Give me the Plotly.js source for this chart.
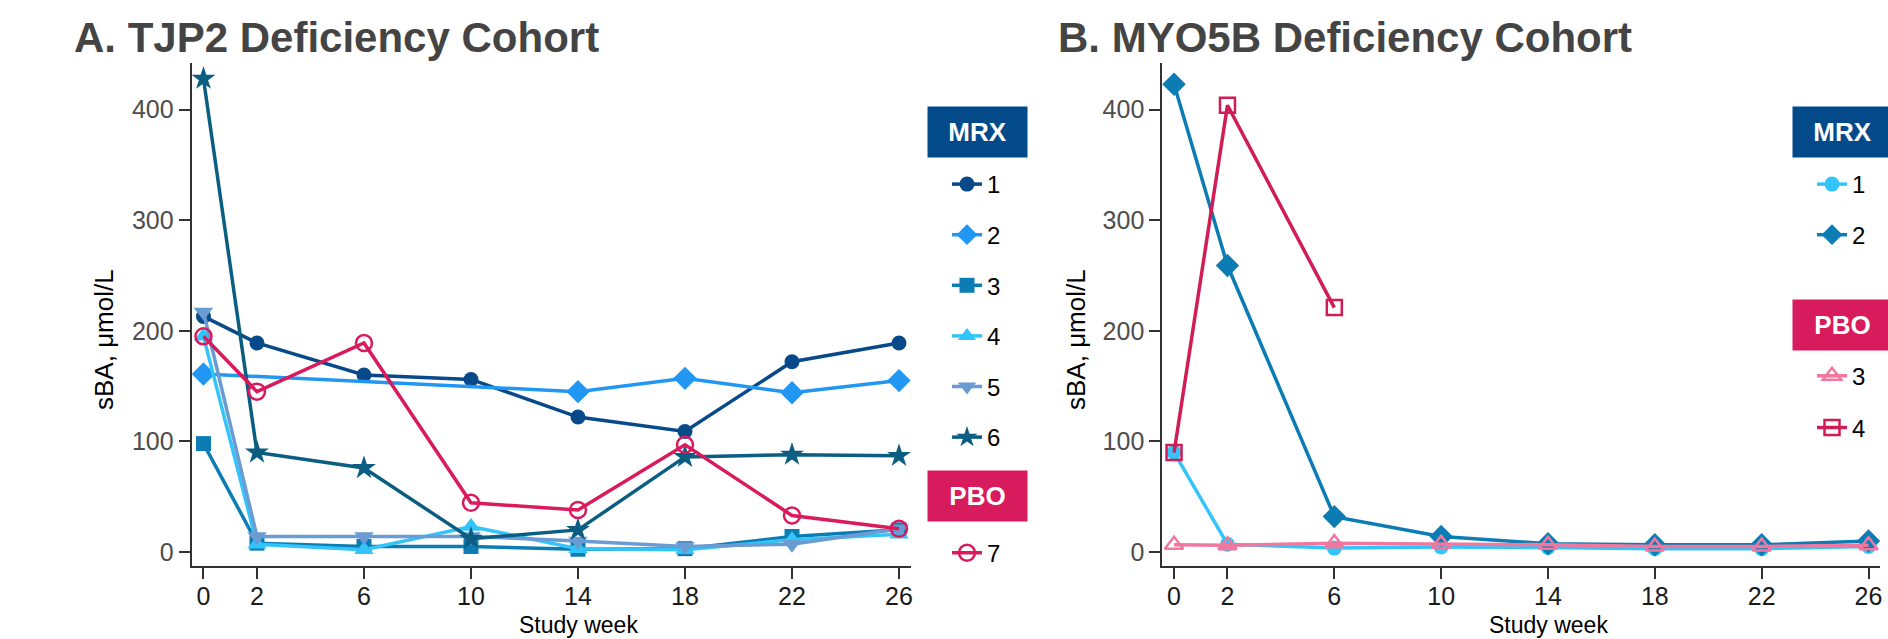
<!DOCTYPE html>
<html>
<head>
<meta charset="utf-8">
<script src="https://cdn.plot.ly/plotly-3.0.1.min.js"></script>
<style>html,body{margin:0;padding:0;background:#fff;}#chart{width:1888px;height:639px;}</style>
</head>
<body>
<div id="chart"></div>
<script>
// ---- data ----
const weeks = [0, 2, 6, 10, 14, 18, 22, 26];
const weekTicks = [0, 2, 6, 10, 14, 18, 22, 26];
const sbaTicks = [0, 100, 200, 300, 400];

// A. TJP2 deficiency cohort
const tjp2Names = ['1', '2', '3', '4', '5', '6', '7'];
const tjp2Mrx1 = [213, 189, 160, 156, 122, 109, 172, 189];
const tjp2Mrx2 = [161, null, null, null, 145, 157, 144, 155];
const tjp2Mrx3 = [98, 8, 5, 5, 2.5, 3, 14, 20];
const tjp2Mrx4 = [195, 7, 2, 23, 3, 2, 11, 16];
const tjp2Mrx5 = [217, 14, 14, 14, 10, 5, 7, 21];
const tjp2Mrx6 = [428, 90, 76, 12, 20, 86, 88, 87];
const tjp2Pbo7 = [195, 145, 189, 44.5, 38, 97, 33, 21];

// B. MYO5B deficiency cohort
const myo5bNames = ['1', '2', '3', '4'];
const myo5bMrx1 = [90, 7, 3.5, 4.5, 4, 3, 3, 5];
const myo5bMrx2 = [423, 259, 32, 14, 7.5, 6.5, 6.5, 10];
const myo5bPbo3 = [6.5, 6, 8, 7.5, 6.5, 5, 5, 6];
const myo5bPbo4 = [90, 404, 221, null, null, null, null, null];

const titles = ['A. TJP2 Deficiency Cohort', 'B. MYO5B Deficiency Cohort'];
const groupLabels = ['MRX', 'PBO'];
const xTitle = 'Study week';
const yTitle = 'sBA, μmol/L';

// ---- styles ----
const W = 1888, H = 639;
const px = x => x / W;
const py = y => 1 - y / H;
const FONT = 'Liberation Sans, Arial, Helvetica, sans-serif';
const C = {
  navy: '#08498a', blue: '#2196f3', mid: '#0b7db4', cyan: '#33c5fa',
  steel: '#6a9bd3', teal: '#0b5e82', crimson: '#d91a5c', pink: '#f0789f',
  crimson2: '#d01d55', mrxBox: '#034a8b', pboBox: '#d81b5c'
};

function tr(y, name, color, symbol, xa, ya, legend, opts) {
  opts = opts || {};
  const open = symbol.indexOf('open') >= 0;
  return {
    type: 'scatter', mode: 'lines+markers', x: weeks, y: y, name: name,
    xaxis: xa, yaxis: ya, legend: legend, legendgroup: legend + name,
    connectgaps: true, cliponaxis: false,
    line: {color: color, width: opts.lw || 3.5},
    marker: {symbol: symbol, size: opts.ms || 15, color: color,
      line: {color: color, width: open ? 2.5 : 0}},
    hoverinfo: 'skip'
  };
}

const data = [
  tr(tjp2Mrx1, tjp2Names[0], C.navy, 'circle', 'x', 'y', 'legend', {ms: 15}),
  tr(tjp2Mrx2, tjp2Names[1], C.blue, 'diamond', 'x', 'y', 'legend', {ms: 18}),
  tr(tjp2Mrx3, tjp2Names[2], C.mid, 'square', 'x', 'y', 'legend', {ms: 15}),
  tr(tjp2Mrx4, tjp2Names[3], C.cyan, 'triangle-up', 'x', 'y', 'legend', {ms: 17}),
  tr(tjp2Mrx5, tjp2Names[4], C.steel, 'triangle-down', 'x', 'y', 'legend', {ms: 17}),
  tr(tjp2Mrx6, tjp2Names[5], C.teal, 'star', 'x', 'y', 'legend', {ms: 18}),
  tr(tjp2Pbo7, tjp2Names[6], C.crimson, 'circle-open', 'x', 'y', 'legend2', {ms: 16}),
  tr(myo5bMrx1, myo5bNames[0], C.cyan, 'circle', 'x2', 'y2', 'legend3', {ms: 15}),
  tr(myo5bMrx2, myo5bNames[1], C.mid, 'diamond', 'x2', 'y2', 'legend3', {ms: 18}),
  tr(myo5bPbo3, myo5bNames[2], C.pink, 'triangle-up-open', 'x2', 'y2', 'legend4', {ms: 16}),
  tr(myo5bPbo4, myo5bNames[3], C.crimson2, 'square-open', 'x2', 'y2', 'legend4', {ms: 15})
];

function xax(domain) {
  return {domain: domain, range: [-0.44, 26.43], tickmode: 'array', tickvals: weekTicks,
    showline: true, linecolor: '#333', linewidth: 2, ticks: 'outside', ticklen: 11,
    tickwidth: 2, tickcolor: '#333', showgrid: false, zeroline: false, automargin: false,
    ticklabelstandoff: -4,
    tickfont: {family: FONT, size: 25, color: '#1a1a1a'}, fixedrange: true};
}
function yax(anchor) {
  return {domain: [py(565.7), py(63.3)], range: [-12.4, 441.9], tickmode: 'array', tickvals: sbaTicks,
    anchor: anchor, showline: true, linecolor: '#333', linewidth: 2, ticks: 'outside', ticklen: 11,
    tickwidth: 2, tickcolor: '#333', showgrid: false, zeroline: false, automargin: false,
    tickfont: {family: FONT, size: 25, color: '#4d4d4d'}, fixedrange: true};
}
function leg(x, y, gap) {
  return {x: px(x), xanchor: 'left', y: py(y), yanchor: 'top', bgcolor: 'rgba(0,0,0,0)',
    font: {family: FONT, size: 24, color: '#000'}, tracegroupgap: gap, borderwidth: 0};
}
function header(text, cx, cy, color) {
  return {text: '<b>' + text + '</b>', xref: 'paper', yref: 'paper', x: px(cx), y: py(cy),
    xanchor: 'center', yanchor: 'middle', showarrow: false, width: 99, height: 50, borderpad: 0,
    bgcolor: color, font: {family: FONT, size: 26, color: '#fff'}};
}
function txt(text, x, y, size, color, opts) {
  return Object.assign({text: text, xref: 'paper', yref: 'paper', x: px(x), y: py(y),
    showarrow: false, font: {family: FONT, size: size, color: color}}, opts || {});
}

const layout = {
  width: W, height: H, margin: {l: 0, r: 0, t: 0, b: 0},
  paper_bgcolor: '#fff', plot_bgcolor: '#fff', showlegend: true, hovermode: false,
  font: {family: FONT},
  xaxis: Object.assign(xax([px(191.7), px(910.5)]), {anchor: 'y'}),
  yaxis: yax('x'),
  xaxis2: Object.assign(xax([px(1162.3), px(1880)]), {anchor: 'y2'}),
  yaxis2: yax('x2'),
  legend: leg(947, 162, 16.4),
  legend2: leg(947, 530.6, 16.4),
  legend3: leg(1812, 162, 16.4),
  legend4: leg(1812, 353.6, 17.5),
  annotations: [
    txt('<b>' + titles[0] + '</b>', 72, 38, 42, '#444', {xanchor: 'left', yanchor: 'middle'}),
    txt('<b>' + titles[1] + '</b>', 1056, 38, 42, '#444', {xanchor: 'left', yanchor: 'middle'}),
    txt(yTitle, 104, 340, 26, '#000', {textangle: -90, xanchor: 'center', yanchor: 'middle'}),
    txt(yTitle, 1076, 340, 26, '#000', {textangle: -90, xanchor: 'center', yanchor: 'middle'}),
    txt(xTitle, 578, 625, 23, '#000', {xanchor: 'center', yanchor: 'middle'}),
    txt(xTitle, 1548, 625, 23, '#000', {xanchor: 'center', yanchor: 'middle'}),
    header(groupLabels[0], 977.5, 132.3, C.mrxBox),
    header(groupLabels[1], 977.5, 496, C.pboBox),
    header(groupLabels[0], 1842.5, 132.3, C.mrxBox),
    header(groupLabels[1], 1842.5, 324.5, C.pboBox)
  ]
};

Plotly.newPlot('chart', data, layout, {displayModeBar: false, staticPlot: true});
</script>
</body>
</html>
